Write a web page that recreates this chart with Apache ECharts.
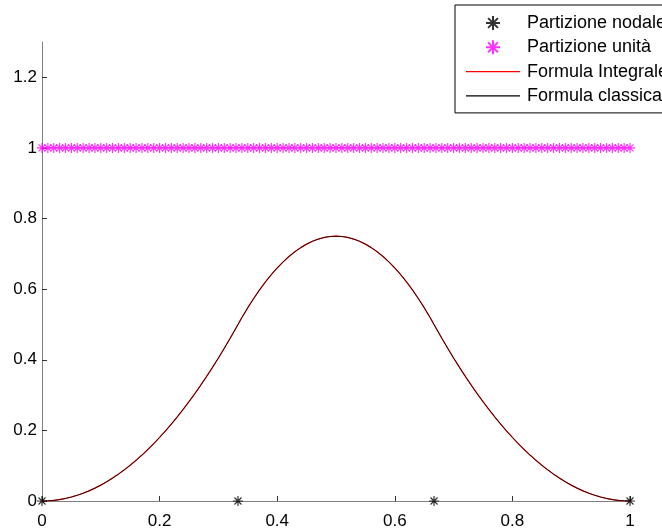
<!DOCTYPE html>
<html>
<head>
<meta charset="utf-8">
<script src="https://cdn.jsdelivr.net/npm/echarts@6/dist/echarts.min.js"></script>
<style>
  html, body { margin: 0; padding: 0; background: #fff; }
  #chart { width: 662px; height: 530px; }
</style>
</head>
<body>
<div id="chart"></div>
<script>
// x samples every 0.01, shared by the curve and the unity partition
const sampleX = [0, 0.01, 0.02, 0.03, 0.04, 0.05, 0.06, 0.07, 0.08, 0.09, 0.1, 0.11, 0.12, 0.13, 0.14, 0.15, 0.16, 0.17, 0.18, 0.19,
  0.2, 0.21, 0.22, 0.23, 0.24, 0.25, 0.26, 0.27, 0.28, 0.29, 0.3, 0.31, 0.32, 0.33, 0.34, 0.35, 0.36, 0.37, 0.38, 0.39,
  0.4, 0.41, 0.42, 0.43, 0.44, 0.45, 0.46, 0.47, 0.48, 0.49, 0.5, 0.51, 0.52, 0.53, 0.54, 0.55, 0.56, 0.57, 0.58, 0.59,
  0.6, 0.61, 0.62, 0.63, 0.64, 0.65, 0.66, 0.67, 0.68, 0.69, 0.7, 0.71, 0.72, 0.73, 0.74, 0.75, 0.76, 0.77, 0.78, 0.79,
  0.8, 0.81, 0.82, 0.83, 0.84, 0.85, 0.86, 0.87, 0.88, 0.89, 0.9, 0.91, 0.92, 0.93, 0.94, 0.95, 0.96, 0.97, 0.98, 0.99, 1];

const curveY = [0, 0.0005, 0.0018, 0.0041, 0.0072, 0.0113, 0.0162, 0.0221, 0.0288, 0.0365, 0.045, 0.0545, 0.0648, 0.0761, 0.0882, 0.1013, 0.1152, 0.1301, 0.1458, 0.1625,
  0.18, 0.1985, 0.2178, 0.2381, 0.2592, 0.2813, 0.3042, 0.3281, 0.3528, 0.3785, 0.405, 0.4325, 0.4608, 0.4901, 0.5196, 0.5475, 0.5736, 0.5979, 0.6204, 0.6411,
  0.66, 0.6771, 0.6924, 0.7059, 0.7176, 0.7275, 0.7356, 0.7419, 0.7464, 0.7491, 0.75, 0.7491, 0.7464, 0.7419, 0.7356, 0.7275, 0.7176, 0.7059, 0.6924, 0.6771,
  0.66, 0.6411, 0.6204, 0.5979, 0.5736, 0.5475, 0.5196, 0.4901, 0.4608, 0.4325, 0.405, 0.3785, 0.3528, 0.3281, 0.3042, 0.2813, 0.2592, 0.2381, 0.2178, 0.1985,
  0.18, 0.1625, 0.1458, 0.1301, 0.1152, 0.1013, 0.0882, 0.0761, 0.0648, 0.0545, 0.045, 0.0365, 0.0288, 0.0221, 0.0162, 0.0113, 0.0072, 0.0041, 0.0018, 0.0005, 0];

const unityY = [1, 1, 1, 1, 1, 1, 1, 1, 1, 1, 1, 1, 1, 1, 1, 1, 1, 1, 1, 1,
  1, 1, 1, 1, 1, 1, 1, 1, 1, 1, 1, 1, 1, 1, 1, 1, 1, 1, 1, 1,
  1, 1, 1, 1, 1, 1, 1, 1, 1, 1, 1, 1, 1, 1, 1, 1, 1, 1, 1, 1,
  1, 1, 1, 1, 1, 1, 1, 1, 1, 1, 1, 1, 1, 1, 1, 1, 1, 1, 1, 1,
  1, 1, 1, 1, 1, 1, 1, 1, 1, 1, 1, 1, 1, 1, 1, 1, 1, 1, 1, 1, 1];

const nodeX = [0, 0.3333, 0.6667, 1];
const nodeY = [0, 0, 0, 0];

const seriesNames = ['Partizione nodale', 'Partizione unità', 'Formula Integrale', 'Formula classica'];

const zip = (xs, ys) => xs.map((x, i) => [x, ys[i]]);
const star = 'path://M5,0L5,10M0,5L10,5M1.5,1.5L8.5,8.5M1.5,8.5L8.5,1.5';
const lineIcon = 'path://M0,0L54,0L54,1.4L0,1.4Z';
const font = 'Liberation Sans, Arial, sans-serif';

const myChart = echarts.init(document.getElementById('chart'));

const option = {
    backgroundColor: '#fff',
    animation: false,
    textStyle: { fontFamily: font },
    grid: { left: 42, right: 32, top: 42, bottom: 27 },
    legend: {
        orient: 'vertical',
        left: 455,
        top: 5,
        padding: [9, 40, 8, 11],
        itemGap: 6.3,
        itemWidth: 54,
        itemHeight: 14,
        borderColor: '#000',
        borderWidth: 1,
        backgroundColor: '#fff',
        textStyle: { fontSize: 18, color: '#000', fontFamily: font, padding: [0, 0, 0, 2] },
        data: [
            { name: seriesNames[0], icon: star },
            { name: seriesNames[1], icon: star },
            { name: seriesNames[2], icon: lineIcon, itemStyle: { color: '#ff0000', borderColor: '#ff0000', borderWidth: 0, opacity: 1 } },
            { name: seriesNames[3], icon: lineIcon, itemStyle: { color: '#000', borderColor: '#000', borderWidth: 0, opacity: 1 } }
        ]
    },
    xAxis: {
        type: 'value',
        min: 0,
        max: 1,
        interval: 0.2,
        axisLine: { lineStyle: { color: '#808080', width: 1 } },
        axisTick: { inside: true, length: 5, lineStyle: { color: '#333' } },
        axisLabel: { color: '#000', fontSize: 17, margin: 12, fontFamily: font },
        splitLine: { show: false }
    },
    yAxis: {
        type: 'value',
        min: 0,
        max: 1.3,
        interval: 0.2,
        axisLine: { show: true, lineStyle: { color: '#808080', width: 1 } },
        axisTick: { show: true, inside: true, length: 5, lineStyle: { color: '#333' } },
        axisLabel: { color: '#000', fontSize: 17, margin: 5, showMaxLabel: false, fontFamily: font },
        splitLine: { show: false }
    },
    series: [
        {
            name: seriesNames[2],
            type: 'line',
            data: zip(sampleX, curveY),
            showSymbol: false,
            symbol: 'none',
            lineStyle: { color: '#ff0000', width: 1.2 },
            itemStyle: { color: '#ff0000' },
            z: 2
        },
        {
            name: seriesNames[3],
            type: 'line',
            data: zip(sampleX, curveY),
            showSymbol: false,
            symbol: 'none',
            lineStyle: { color: '#000', width: 1, opacity: 0.8 },
            itemStyle: { color: '#000' },
            z: 3
        },
        {
            name: seriesNames[1],
            type: 'scatter',
            data: zip(sampleX, unityY),
            symbol: star,
            symbolSize: 10,
            itemStyle: { color: '#ff00ff', borderColor: '#ff00ff', borderWidth: 1.2 },
            z: 4
        },
        {
            name: seriesNames[0],
            type: 'scatter',
            data: zip(nodeX, nodeY),
            symbol: star,
            symbolSize: 10,
            itemStyle: { color: '#000', borderColor: '#000', borderWidth: 1.2 },
            z: 5
        }
    ]
};

myChart.setOption(option);
</script>
</body>
</html>
